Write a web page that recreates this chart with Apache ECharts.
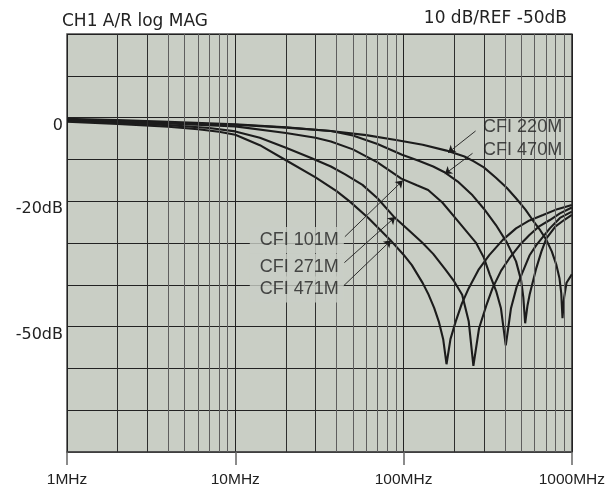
<!DOCTYPE html>
<html><head><meta charset="utf-8">
<script src="https://cdn.jsdelivr.net/npm/echarts@6/dist/echarts.min.js"></script>
<style>html,body{margin:0;padding:0;background:#fff}#c{width:608px;height:489px}</style>
</head><body><div id="c"></div>
<script>
// ---- tick labels ----
const xTickLabels = {1: '1MHz', 10: '10MHz', 100: '100MHz', 1000: '1000MHz'};
const yTickLabels = {'0': '0', '-20': '-20dB', '-50': '-50dB'};
const titleLeft = 'CH1 A/R log MAG';
const titleRight = '10 dB/REF -50dB';
const minorFreqs = [2, 3, 4, 5, 6, 7, 8, 9, 20, 30, 40, 50, 60, 70, 80, 90, 200, 300, 400, 500, 600, 700, 800, 900];

// ---- curves [MHz, dB] ----
const cfi220 = [[1,-0.3],[2,-0.6],[4,-1.0],[10,-1.6],[20,-2.3],[37,-3.2],[60,-4.2],[92,-5.4],[130,-6.5],[180,-7.9],[230,-9.3],[260,-10.4],[300,-11.9],[354,-14.4],[410,-16.8],[466,-19.3],[530,-22],[585,-24.5],[650,-27],[700,-29],[760,-32],[810,-35.3],[845,-38.5],[865,-42],[880,-48],[900,-43],[930,-39.5],[1000,-37.5]];
const cfi470 = [[1,-0.5],[2,-0.9],[4,-1.3],[10,-1.7],[20,-2.4],[37,-3.2],[50,-4.3],[70,-6.3],[98,-8.9],[123,-10.3],[150,-11.7],[174,-13.0],[210,-15.3],[257,-18.6],[300,-21.8],[354,-25.7],[410,-29.8],[466,-34.4],[500,-39],[515,-43],[528,-49.2],[545,-45],[561,-42.4],[615,-36],[660,-32],[706,-28.9],[800,-26],[900,-24.5],[1000,-23.3]];
const cfi101 = [[1,-0.6],[2,-0.9],[4,-1.4],[10,-2.1],[20,-3.7],[30,-4.8],[37,-5.7],[50,-7.6],[70,-10.7],[97,-14.6],[120,-16.2],[140,-17.3],[170,-20.3],[204,-24.1],[240,-27.5],[269,-29.9],[300,-33.5],[325,-37.5],[355,-41.5],[379,-45.6],[405,-54.5],[420,-50],[435,-45.6],[470,-40.5],[512,-36.8],[560,-33],[615,-30.5],[740,-26.5],[850,-24],[1000,-22.5]];
const cfi271 = [[1,-0.8],[2,-1.2],[4,-1.8],[7,-2.5],[10,-3.3],[14,-4.8],[20,-7.2],[28,-9.6],[37,-11.7],[45,-13.6],[57,-16.1],[70,-19.3],[87.5,-23.7],[105,-26.6],[129,-29.9],[150,-32.6],[177,-36.3],[200,-39.2],[223,-42.4],[244,-48.8],[260,-59.4],[281,-50.4],[310,-45],[338,-40.8],[380,-36.6],[425,-33.7],[490,-30.5],[560,-28.1],[640,-26],[740,-24.5],[850,-22.9],[1000,-21.5]];
const cfi471 = [[1,-1.0],[2,-1.5],[4,-2.2],[6,-2.8],[8,-3.4],[10,-4.1],[14,-6.6],[20,-10.2],[30,-14.3],[40,-17.6],[48,-20.1],[62,-24.1],[83,-29.2],[100,-32.8],[112,-35.3],[130,-39.6],[141,-42.4],[152,-45.5],[162,-48.8],[172,-53],[180,-59],[190,-53],[204,-48.8],[222,-44.5],[244,-40.8],[280,-36.3],[323,-32.9],[390,-29.2],[466,-26.5],[560,-24.6],[674,-23.3],[820,-21.9],[1000,-20.9]];

// ---- callouts (data coordinates) ----
const calloutNames = ['CFI 220M', 'CFI 470M', 'CFI 101M', 'CFI 271M', 'CFI 471M'];
const calloutAnchor = [[297, -2.25], [297, -7.7], [12.2, -29.3], [12.2, -35.7], [12.2, -41.1]];
const leaderFrom = [[268, -3.2], [257, -8.54], [44.8, -28.5], [44.5, -34.7], [43.9, -40.3]];
const leaderTo = [[184, -8.4], [176, -13.5], [99, -15.05], [89.2, -23.8], [84.3, -29.35]];

const PLOT_BG = '#c9cec5';
const INK = '#1c1c1c';

const chart = echarts.init(document.getElementById('c'), null, {renderer: 'canvas'});
const curveSeries = [cfi220, cfi470, cfi101, cfi271, cfi471].map((d, i) => ({
  type: 'line', name: 'c' + i, data: d, showSymbol: false, symbol: 'none',
  lineStyle: {color: INK, width: 2.1}, z: 3, animation: false, silent: true
}));

chart.setOption({
  animation: false,
  backgroundColor: '#ffffff',
  title: [
    {text: titleLeft, left: 62, top: 13, padding: 0,
     textStyle: {fontFamily: 'DejaVu Sans', fontSize: 17, fontWeight: 'normal', color: '#222'}},
    {text: titleRight, right: 41, top: 10, padding: 0,
     textStyle: {fontFamily: 'DejaVu Sans', fontSize: 17, fontWeight: 'normal', color: '#222'}}
  ],
  grid: {left: 67, right: 36, top: 34, bottom: 37, show: true, backgroundColor: PLOT_BG,
         borderColor: '#4a4a4a', borderWidth: 1.5},
  xAxis: {
    type: 'log', logBase: 10, min: 1, max: 1000,
    axisLine: {show: true, onZero: false, lineStyle: {color: '#4a4a4a', width: 1.5}},
    axisTick: {show: true, length: 13, lineStyle: {color: '#666', width: 1.5}},
    axisLabel: {margin: 20, fontFamily: 'Liberation Sans', fontSize: 15.5, color: '#222',
      showMinLabel: true, showMaxLabel: true,
      formatter: v => xTickLabels[Math.round(v)] || ''},
    splitLine: {show: true, lineStyle: {color: '#222', width: 1}}
  },
  yAxis: {
    type: 'value', min: -80, max: 20, interval: 10,
    axisLine: {show: false}, axisTick: {show: false},
    axisLabel: {margin: 4, fontFamily: 'DejaVu Sans', fontSize: 16, color: '#222',
      verticalAlign: 'top',
      formatter: v => yTickLabels[String(Math.round(v))] || ''},
    splitLine: {show: true, lineStyle: {color: '#222', width: 1}}
  },
  series: [
    {type: 'line', data: [], z: 1, silent: true,
     markLine: {silent: true, symbol: 'none', animation: false, label: {show: false},
       data: minorFreqs.map(f => {
         const m = Math.round(f / Math.pow(10, Math.floor(Math.log10(f) + 1e-9)));
         return {xAxis: f, lineStyle: {type: 'solid', color: (m === 2 || m === 3) ? '#2e2e2e' : '#5e5e5e', width: 1}};
       })}},
    ...curveSeries,
    {type: 'line', data: [], z: 4, silent: true,
     markLine: {silent: true, animation: false, symbol: ['none', 'arrow'], symbolSize: 7,
       label: {show: false}, lineStyle: {type: 'solid', color: INK, width: 0.9},
       data: leaderFrom.map((p, i) => [{coord: p}, {coord: leaderTo[i]}])}},
    {type: 'scatter', z: 6, silent: true, symbolSize: 0, animation: false,
     data: calloutNames.map((n, i) => ({
       name: n, value: calloutAnchor[i],
       label: i < 2 ? {show: true} : {show: true, backgroundColor: PLOT_BG, padding: [3, 5, 3, 10]}
     })),
     label: {show: true, position: 'right', distance: 0, formatter: p => p.name,
       fontFamily: 'Liberation Sans', fontSize: 18, color: '#222', lineHeight: 20}}
  ]
});
</script></body></html>
